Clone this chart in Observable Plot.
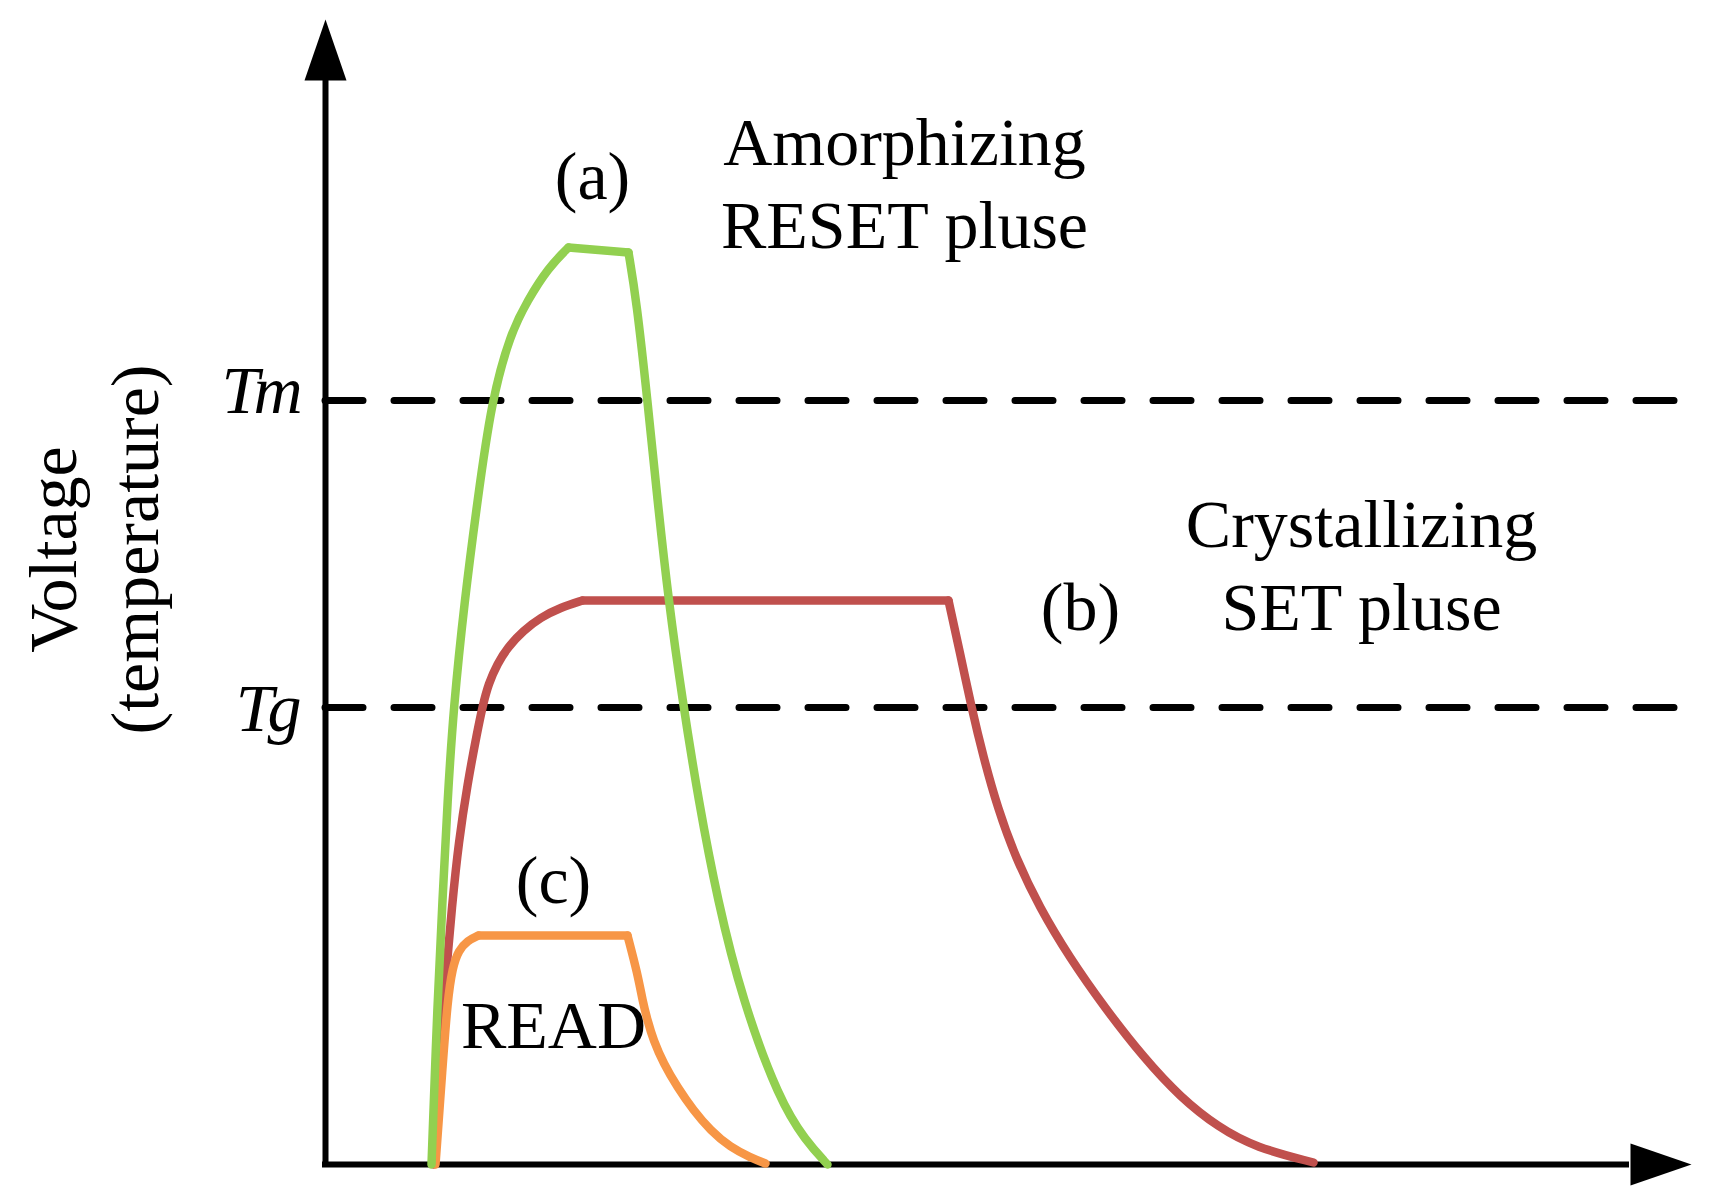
<!DOCTYPE html>
<html>
<head>
<meta charset="utf-8">
<script src="https://cdn.jsdelivr.net/npm/d3@7"></script>
<script src="https://cdn.jsdelivr.net/npm/@observablehq/plot@0.6"></script>
<style>
  html, body { margin: 0; padding: 0; background: #fff; overflow: hidden; }
  svg { display: block; }
  g[font-style="italic"] text { letter-spacing: -6px; }
</style>
</head>
<body>
<script>
// ---- Data (time t, voltage/temperature v) ----
// (a) Amorphizing RESET pulse
const resetRise = [[10.6,0],[11.2,16.4],[11.7,26.4],[12.2,36.4],[12.8,45.7],[13.9,56.4],
  [15.2,66.4],[16.6,76.4],[18.5,83.1],[20.2,86.4],[22.3,89.7],[24.3,91.7]];
const resetTop  = [[24.3,91.7],[30.3,91.2]];
const resetFall = [[30.3,91.2],[31.1,86.4],[32.2,76.4],[33.2,66.4],[34.3,56.4],[35.7,46.4],
  [37.3,36.4],[39.2,26.4],[41.7,16.4],[45.4,6.4],[48.0,2.4],[50.2,0]];
// (b) Crystallizing SET pulse
const setRise = [[10.8,0],[11.8,16.4],[12.7,26.4],[13.3,32.1],[14.2,38.1],[15.2,43.4],
  [15.7,45.8],[16.3,48.1],[17.2,50.1],[18.2,51.7],[19.8,53.4],[21.5,54.7],[23.5,55.7],[25.7,56.4]];
const setTop  = [[25.7,56.4],[62.3,56.4]];
const setFall = [[62.3,56.4],[63.4,51.4],[64.6,45.7],[65.8,40.7],[67.2,35.7],[69.0,30.7],
  [71.4,25.7],[74.4,20.7],[77.9,15.7],[81.8,10.7],[85.5,6.7],[89.3,3.7],[93.0,1.7],[98.8,0.2]];
// (c) READ
const readRise = [[11.0,0],[11.7,9.7],[12.2,16.4],[12.7,19.7],[13.3,21.4],[14.2,22.4],[15.3,22.9]];
const readTop  = [[15.3,22.9],[30.2,22.9]];
const readFall = [[30.2,22.9],[31.2,19.1],[31.7,16.4],[32.2,14.4],[32.8,12.4],[33.8,10.1],
  [35.2,7.7],[36.8,5.4],[38.5,3.4],[40.5,1.7],[42.5,0.7],[44.0,0.1]];

const thresholds = [ {name: "Tm", v: 76.4}, {name: "Tg", v: 45.7} ];
const xMax = 136.6;   // end of time axis (arrow tip)
const yMax = 114.5;   // end of voltage axis (arrow tip)
const dashEnd = 135;  // end of dashed threshold lines
const annotations = [
  {text: "(a)", t: 26.7, v: 96.6},
  {text: "Amorphizing\nRESET pluse", t: 57.9, v: 91.7},
  {text: "(b)", t: 75.5, v: 53.5},
  {text: "Crystallizing\nSET pluse", t: 103.6, v: 53.5},
  {text: "(c)", t: 22.8, v: 26.2},
  {text: "READ", t: 22.8, v: 11.7}
];
const yLabel = "Voltage\n(temperature)";

// ---- helpers ----
const segments = (parts) => parts.flatMap((arr, i) => arr.map(([t, v]) => ({t, v, seg: i})));
const arrowHead = { // filled arrowhead, tip at origin pointing up
  draw(ctx) {
    ctx.moveTo(0, 0);
    ctx.lineTo(21, 61);
    ctx.lineTo(-21, 61);
    ctx.closePath();
  }
};
const serif = "'Liberation Serif', 'Times New Roman', Times, serif";
const pulse = (parts, color) => Plot.line(segments(parts), {
  x: "t", y: "v", z: "seg", stroke: color, strokeWidth: 8.5,
  curve: "basis", strokeLinecap: "round", strokeLinejoin: "round"
});

const chart = Plot.plot({
  width: 1711,
  height: 1204,
  marginLeft: 325,
  marginRight: 20,
  marginTop: 19,
  marginBottom: 40,
  x: {domain: [0, xMax], axis: null},
  y: {domain: [0, yMax], axis: null},
  style: {fontFamily: serif, background: "#fff", color: "#000", overflow: "visible"},
  marks: [
    // threshold dashed lines
    Plot.ruleY(thresholds, {y: "v", x1: 0, x2: dashEnd, stroke: "#000", strokeWidth: 7,
      strokeDasharray: "38,31", strokeLinecap: "round"}),
    // axes
    Plot.ruleX([0], {y1: -0.3, y2: yMax - 6.1, stroke: "#000", strokeWidth: 6}),
    Plot.ruleY([0], {x1: -0.3, x2: xMax - 6.2, stroke: "#000", strokeWidth: 6}),
    Plot.dot([{t: 0, v: yMax}], {x: "t", y: "v", symbol: arrowHead, fill: "#000", stroke: null, r: 10}),
    Plot.dot([{t: xMax, v: 0}], {x: "t", y: "v", symbol: arrowHead, fill: "#000", stroke: null, r: 10, rotate: 90}),
    // pulses
    pulse([setRise, setTop, setFall], "#C0504D"),
    pulse([readRise, readTop, readFall], "#F79646"),
    pulse([resetRise, resetTop, resetFall], "#92D050"),
    // annotations
    Plot.text(annotations, {x: "t", y: "v", text: "text", fontSize: 68, fill: "#000",
      textAnchor: "middle", lineAnchor: "bottom", lineHeight: 1.22}),
    // threshold labels
    Plot.text([thresholds[0]], {x: 0, y: "v", text: "name", fontSize: 68, fontStyle: "italic",
      fill: "#000", textAnchor: "end", lineAnchor: "bottom", dx: -29, dy: 12}),
    Plot.text([thresholds[1]], {x: 0, y: "v", text: "name", fontSize: 68, fontStyle: "italic",
      fill: "#000", textAnchor: "end", lineAnchor: "bottom", dx: -30, dy: 23}),
    // y-axis label
    Plot.text([yLabel], {x: -16.8, y: 61.5, text: d => d, fontSize: 68, fill: "#000",
      rotate: -90, textAnchor: "middle", lineAnchor: "bottom", lineHeight: 1.2})
  ]
});
document.body.appendChild(chart);
</script>
</body>
</html>
